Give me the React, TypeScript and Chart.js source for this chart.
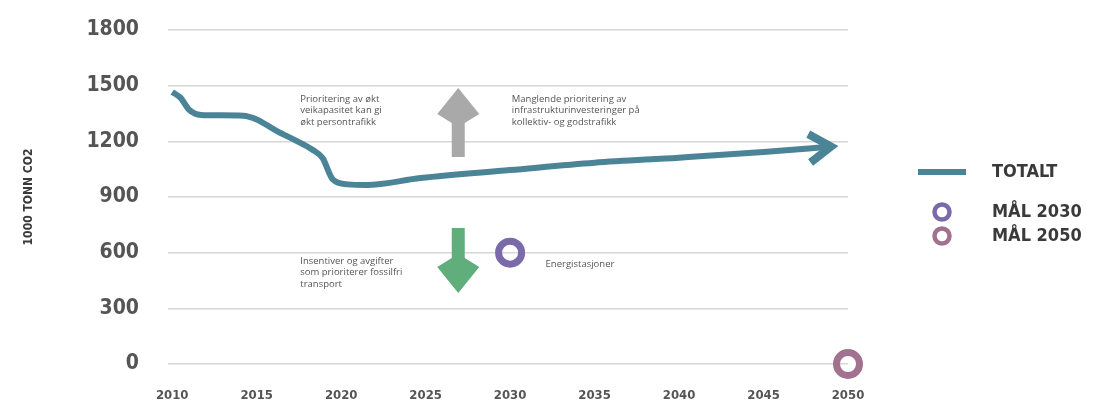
import React, { useEffect, useRef } from "react";
import { Chart, registerables } from "chart.js";

Chart.register(...registerables);

// ---- data ----
const totalYears = [2010, 2010.5, 2011, 2011.7, 2012.8, 2014.2, 2015, 2016.2, 2017.3, 2018.3, 2018.9, 2019.5, 2020.4, 2021.5, 2024.7, 2030, 2035, 2040, 2045, 2049];
const totalValues = [1466, 1434, 1370, 1342, 1340, 1338, 1318, 1255, 1205, 1155, 1110, 995, 968, 965, 1002, 1045, 1085, 1112, 1142, 1172];
const goal2030 = { year: 2030, value: 600 };
const goal2050 = { year: 2050, value: 0 };
const yTicks = [0, 300, 600, 900, 1200, 1500, 1800];
const xTicks = [2010, 2015, 2020, 2025, 2030, 2035, 2040, 2045, 2050];
const legendLabels = ["TOTALT", "MÅL 2030", "MÅL 2050"];
const yTitle = "1000 TONN CO2";

const TEAL = "#4b8497";
const PURPLE = "#7b6aa9";
const MAUVE = "#a2718e";
const NARROW = "'DejaVu Sans Condensed', 'Liberation Sans Narrow', sans-serif";
const SANS = "'Open Sans', 'Liberation Sans', sans-serif";

const annotationPlugin = {
  id: "annotations",
  afterDatasetsDraw(chart: any, _args: any, opts: any) {
    const { ctx } = chart;
    const xs = chart.scales.x;
    const ys = chart.scales.y;
    ctx.save();
    for (const a of opts.arrows) {
      const cx = xs.getPixelForValue(a.year);
      const tail = ys.getPixelForValue(a.from);
      const tip = ys.getPixelForValue(a.to);
      const dir = tip < tail ? 1 : -1;
      const outer = tip + dir * a.headOuter;
      const inner = tip + dir * a.headInner;
      ctx.beginPath();
      ctx.moveTo(cx, tip);
      ctx.lineTo(cx + a.headHalf, outer);
      ctx.lineTo(cx + a.stemHalf, inner);
      ctx.lineTo(cx + a.stemHalf, tail);
      ctx.lineTo(cx - a.stemHalf, tail);
      ctx.lineTo(cx - a.stemHalf, inner);
      ctx.lineTo(cx - a.headHalf, outer);
      ctx.closePath();
      ctx.fillStyle = a.color;
      ctx.fill();
    }
    ctx.fillStyle = "#555";
    ctx.textBaseline = "middle";
    ctx.textAlign = "left";
    for (const t of opts.texts) {
      ctx.font = `${t.size}px ${SANS}`;
      const x = xs.getPixelForValue(t.year);
      const y0 = ys.getPixelForValue(t.value);
      t.lines.forEach((line: string, i: number) => {
        ctx.fillText(line, x, y0 + i * t.lineHeight);
      });
    }
    const meta = chart.getDatasetMeta(0);
    const pts = meta.data;
    if (pts.length > 1) {
      const p1 = pts[pts.length - 1];
      const p0 = pts[pts.length - 2];
      const ang = Math.atan2(p1.y - p0.y, p1.x - p0.x);
      const len = 26;
      const spread = 0.58;
      ctx.strokeStyle = TEAL;
      ctx.lineWidth = 8;
      ctx.lineJoin = "miter";
      ctx.lineCap = "butt";
      ctx.beginPath();
      ctx.moveTo(p1.x - len * Math.cos(ang - spread), p1.y - len * Math.sin(ang - spread));
      ctx.lineTo(p1.x, p1.y);
      ctx.lineTo(p1.x - len * Math.cos(ang + spread), p1.y - len * Math.sin(ang + spread));
      ctx.stroke();
    }
    ctx.restore();
  },
};

const legendPlugin = {
  id: "customLegend",
  afterDraw(chart: any, _args: any, opts: any) {
    const { ctx } = chart;
    const ds = chart.data.datasets;
    ctx.save();
    ctx.textBaseline = "middle";
    ctx.textAlign = "left";
    ctx.font = `bold 18px ${NARROW}`;
    opts.items.forEach((it: any, i: number) => {
      const d = ds[i];
      ctx.strokeStyle = d.borderColor;
      if (i === 0) {
        ctx.lineWidth = 6;
        ctx.beginPath();
        ctx.moveTo(opts.swatchX - 24, it.y);
        ctx.lineTo(opts.swatchX + 24, it.y);
        ctx.stroke();
      } else {
        ctx.lineWidth = 4.5;
        ctx.beginPath();
        ctx.arc(opts.swatchX, it.y, 7.5, 0, Math.PI * 2);
        ctx.stroke();
      }
      ctx.fillStyle = "#3a3a3a";
      ctx.fillText(d.label, opts.textX, it.y);
    });
    ctx.restore();
  },
};

export default function App() {
  const ref = useRef<HTMLCanvasElement | null>(null);

  useEffect(() => {
    if (!ref.current) return;
    const chart = new Chart(ref.current, {
      type: "line",
      data: {
        datasets: [
          {
            label: legendLabels[0],
            data: totalYears.map((yr, i) => ({ x: yr, y: totalValues[i] })),
            borderColor: TEAL,
            borderWidth: 6,
            pointRadius: 0,
            cubicInterpolationMode: "monotone",
            fill: false,
            clip: false as any,
          },
          {
            label: legendLabels[1],
            data: [{ x: goal2030.year, y: goal2030.value }],
            borderColor: PURPLE,
            backgroundColor: "rgba(0,0,0,0)",
            showLine: false,
            pointRadius: 11.5,
            pointBorderWidth: 7,
            pointHoverRadius: 11.5,
            clip: false as any,
          },
          {
            label: legendLabels[2],
            data: [{ x: goal2050.year, y: goal2050.value }],
            borderColor: MAUVE,
            backgroundColor: "rgba(0,0,0,0)",
            showLine: false,
            pointRadius: 11.5,
            pointBorderWidth: 7,
            pointHoverRadius: 11.5,
            clip: false as any,
          },
        ],
      },
      options: {
        animation: false,
        responsive: false,
        layout: { padding: { top: 30, right: 247, left: 0, bottom: 0 } },
        scales: {
          x: {
            type: "linear",
            min: 2009.75,
            max: 2050,
            afterBuildTicks: (s: any) => {
              s.ticks = xTicks.map((v) => ({ value: v }));
            },
            afterFit: (s: any) => {
              s.height = 43;
            },
            grid: { display: false, drawTicks: false },
            border: { display: false },
            ticks: {
              padding: 24,
              color: "#555",
              font: { family: NARROW, size: 13, weight: "bold" },
              callback: (v: any) => String(v),
            },
          },
          y: {
            min: 0,
            max: 1800,
            afterBuildTicks: (s: any) => {
              s.ticks = yTicks.map((v) => ({ value: v }));
            },
            afterFit: (s: any) => {
              s.width = 168;
            },
            grid: { color: "#d6d6d6", lineWidth: 1.5, drawTicks: true, tickLength: 29, tickColor: "rgba(0,0,0,0)" },
            border: { display: false },
            ticks: {
              padding: 0,
              color: "#555",
              font: { family: NARROW, size: 21, weight: "bold" },
              callback: (v: any) => String(v),
            },
            title: {
              display: true,
              text: yTitle,
              color: "#3a3a3a",
              font: { family: NARROW, size: 12, weight: "bold" },
              padding: { top: 22, bottom: 0 },
            },
          },
        },
        plugins: {
          legend: { display: false },
          tooltip: { enabled: false },
          annotations: {
            arrows: [
              { year: 2026.93, from: 1116, to: 1487, color: "#a9a9a9", headHalf: 21, stemHalf: 6.5, headOuter: 26, headInner: 35 },
              { year: 2026.93, from: 733, to: 383, color: "#5fae7c", headHalf: 21, stemHalf: 6.5, headOuter: 26, headInner: 35 },
            ],
            texts: [
              { year: 2017.58, value: 1428, size: 9.5, lineHeight: 11.5, lines: ["Prioritering av økt", "veikapasitet kan gi", "økt persontrafikk"] },
              { year: 2030.1, value: 1428, size: 9.5, lineHeight: 11.5, lines: ["Manglende prioritering av", "infrastrukturinvesteringer på", "kollektiv- og godstrafikk"] },
              { year: 2017.58, value: 555, size: 9.5, lineHeight: 11.5, lines: ["Insentiver og avgifter", "som prioriterer fossilfri", "transport"] },
              { year: 2032.1, value: 539, size: 9.5, lineHeight: 11.5, lines: ["Energistasjoner"] },
            ],
          },
          customLegend: {
            swatchX: 942,
            textX: 992,
            items: [{ y: 172 }, { y: 212 }, { y: 236 }],
          },
        } as any,
      },
      plugins: [annotationPlugin, legendPlugin],
    } as any);
    return () => chart.destroy();
  }, []);

  return (
    <div style={{ position: "absolute", left: 0, top: 0, width: 1095, height: 407, background: "#fff" }}>
      <canvas ref={ref} width={1095} height={407} />
    </div>
  );
}
